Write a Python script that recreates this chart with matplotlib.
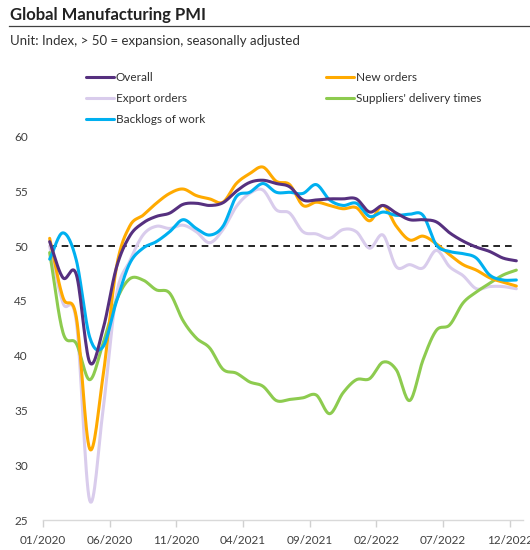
import matplotlib
matplotlib.use('Agg')
import matplotlib.pyplot as plt
import numpy as np

plt.rcParams['font.family'] = ['Lato', 'DejaVu Sans']

# monthly, 01/2020 .. 12/2022
months = ['01/2020', '06/2020', '11/2020', '04/2021', '09/2021', '02/2022', '07/2022', '12/2022']

overall = [50.4, 47.1, 47.4, 39.4, 42.4, 48.0, 50.9, 52.1, 52.7, 53.0, 53.8, 53.9,
           53.7, 53.95, 55.0, 55.8, 56.0, 55.7, 55.4, 54.2, 54.2, 54.3, 54.3, 54.3,
           53.1, 53.7, 53.0, 52.4, 52.4, 52.2, 51.2, 50.45, 49.9, 49.5, 48.9, 48.65]
new_orders = [50.7, 45.3, 43.5, 31.5, 38.1, 48.0, 51.8, 52.8, 53.9, 54.8, 55.2, 54.6,
              54.3, 54.0, 55.7, 56.6, 57.2, 55.9, 55.6, 53.7, 54.0, 53.7, 53.4, 53.5,
              52.3, 53.7, 51.8, 50.55, 50.9, 50.2, 49.2, 48.3, 47.8, 47.1, 46.7, 46.35]
export_orders = [50.0, 44.8, 43.1, 26.8, 35.0, 45.5, 48.6, 51.0, 51.8, 51.6, 51.9, 51.3,
                 50.3, 51.5, 53.6, 54.8, 55.1, 53.3, 53.0, 51.3, 51.1, 50.7, 51.5, 51.3,
                 49.8, 51.0, 48.1, 48.3, 48.0, 49.6, 48.1, 47.3, 46.1, 46.3, 46.3, 46.1]
suppliers = [49.4, 42.1, 41.1, 37.8, 41.1, 45.0, 47.0, 46.9, 46.0, 45.7, 43.2, 41.6,
             40.7, 38.75, 38.4, 37.6, 37.2, 35.9, 36.0, 36.15, 36.4, 34.7, 36.6, 37.8,
             37.9, 39.4, 38.7, 35.9, 39.6, 42.3, 42.8, 44.8, 45.8, 46.6, 47.35, 47.8]
backlogs = [48.8, 51.2, 48.7, 41.7, 40.8, 44.9, 48.4, 49.8, 50.4, 51.3, 52.4, 51.6,
            51.0, 51.8, 54.5, 54.9, 55.7, 54.9, 54.9, 54.8, 55.6, 54.2, 53.7, 53.9,
            52.7, 53.1, 52.8, 52.9, 52.8, 50.1, 49.5, 49.3, 48.9, 47.35, 46.9, 46.9]


def smooth(vals, n=16):
    # cubic hermite through the points, like a smoothed spreadsheet line
    y = np.asarray(vals, float)
    m = np.gradient(y)
    t = np.linspace(0, 1, n, endpoint=False)
    h00 = 2*t**3 - 3*t**2 + 1
    h10 = t**3 - 2*t**2 + t
    h01 = -2*t**3 + 3*t**2
    h11 = t**3 - t**2
    xs, ys = [], []
    for i in range(len(y) - 1):
        xs.append(i + t)
        ys.append(h00*y[i] + h10*m[i] + h01*y[i+1] + h11*m[i+1])
    xs.append([len(y) - 1])
    ys.append([y[-1]])
    return np.concatenate(xs), np.concatenate(ys)


fig = plt.figure(figsize=(5.3, 5.5), dpi=100)
ax = fig.add_axes([0.0811, 0.0545, 0.9057, 0.6975])

series = [
    ('Export orders', export_orders, '#D9CCEC'),
    ("Suppliers' delivery times", suppliers, '#8DCB4F'),
    ('New orders', new_orders, '#FFAA00'),
    ('Backlogs of work', backlogs, '#00B0F0'),
    ('Overall', overall, '#56307F'),
]
handles = {}
for name, vals, col in series:
    xs, ys = smooth(vals)
    h, = ax.plot(xs, ys, color=col, lw=2.2, label=name, solid_capstyle='round')
    handles[name] = h

ax.plot([0, len(overall) - 1], [50, 50], color='black', lw=1.2, ls=(0, (4, 3)), zorder=1)

ax.set_ylim(25, 60)
ax.set_xlim(-0.5, len(overall) - 0.5)
ax.set_yticks([25, 30, 35, 40, 45, 50, 55, 60])
ax.set_xticks(np.arange(-0.5, len(overall), 5))
ax.set_xticklabels(months)
ax.tick_params(axis='y', length=0, pad=11, labelsize=8.5, labelcolor='#404040')
ax.tick_params(axis='x', length=5, color='#D0D0D0', width=1, pad=6, labelsize=8.5, labelcolor='#404040')
for s in ['top', 'right', 'left']:
    ax.spines[s].set_visible(False)
ax.spines['bottom'].set_color('#D9D9D9')
ax.spines['bottom'].set_linewidth(1)

order = ['Overall', 'Export orders', 'Backlogs of work', 'New orders', "Suppliers' delivery times"]
fig.legend([handles[k] for k in order], order, loc='upper left', bbox_to_anchor=(0.162, 0.869),
           ncol=2, frameon=False, fontsize=8.5, handlelength=2.4, handletextpad=0.15,
           columnspacing=10.2, labelspacing=0.85, borderpad=0, borderaxespad=0, labelcolor='#303030')

fig.text(0.019, 0.973, 'Global Manufacturing PMI', fontsize=12, fontweight='bold', color='#222222', va='center')
fig.add_artist(plt.Line2D([0.017, 1.0], [0.953, 0.953], color='#404040', lw=0.9))
fig.text(0.019, 0.926, 'Unit: Index, > 50 = expansion, seasonally adjusted', fontsize=9.5, color='#303030', va='center')

fig.savefig('out.png', dpi=100)
